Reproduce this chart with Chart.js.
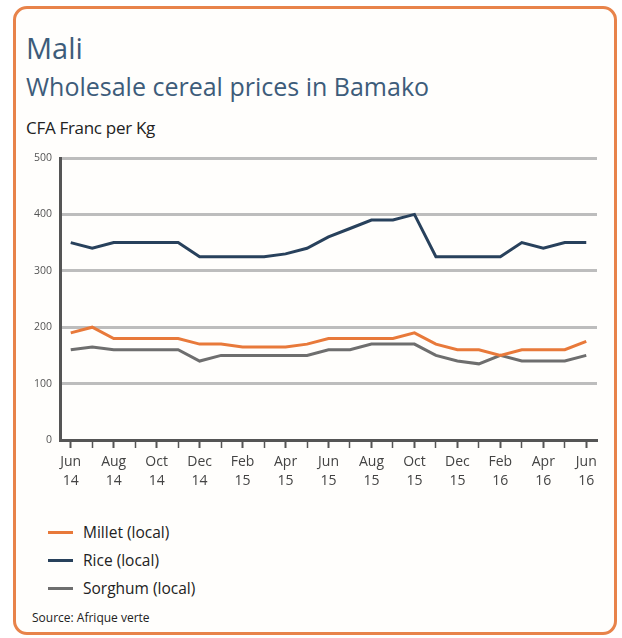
<!DOCTYPE html>
<html>
<head>
<meta charset="utf-8">
<script src="https://cdn.jsdelivr.net/npm/chart.js@4/dist/chart.umd.min.js"></script>
<style>
  html, body { margin: 0; padding: 0; background: #fff; }
  body { width: 622px; height: 638px; position: relative; overflow: hidden; font-family: "Open Sans", sans-serif; }
  .box { position: absolute; left: 13px; top: 6px; width: 598px; height: 623px; border: 3px solid #e8834a; border-radius: 14px; background: #fffefc; }
  .title { position: absolute; left: 26px; top: 28px; font-size: 29px; color: #3d5c7a; }
  .subtitle { position: absolute; left: 26px; top: 69px; font-size: 25px; color: #3d5c7a; }
  .unit { position: absolute; left: 26px; top: 116px; font-size: 17px; color: #222; letter-spacing: -0.3px; }
  #wrap { position: absolute; left: 0; top: 140px; width: 622px; height: 362px; }
  .legend { position: absolute; left: 48px; top: 518px; }
  .legend div { height: 28px; font-size: 15.5px; color: #222; display: flex; align-items: center; }
  .legend span { display: inline-block; width: 25px; height: 3px; margin-right: 10px; }
  .source { position: absolute; left: 32px; top: 609px; font-size: 12px; color: #222; }
</style>
</head>
<body>
<div class="box"></div>
<div class="title">Mali</div>
<div class="subtitle">Wholesale cereal prices in Bamako</div>
<div class="unit">CFA Franc per Kg</div>
<div id="wrap"><canvas id="chart" width="622" height="362"></canvas></div>
<div class="legend" id="legend"></div>
<div class="source">Source: Afrique verte</div>
<script>
const months = ["Jun 14","Jul 14","Aug 14","Sep 14","Oct 14","Nov 14","Dec 14","Jan 15","Feb 15","Mar 15","Apr 15","May 15",
  "Jun 15","Jul 15","Aug 15","Sep 15","Oct 15","Nov 15","Dec 15","Jan 16","Feb 16","Mar 16","Apr 16","May 16","Jun 16"];
const millet  = [190,200,180,180,180,180,170,170,165,165,165,170,180,180,180,180,190,170,160,160,150,160,160,160,175];
const rice    = [350,340,350,350,350,350,325,325,325,325,330,340,360,375,390,390,400,325,325,325,325,350,340,350,350];
const sorghum = [160,165,160,160,160,160,140,150,150,150,150,150,160,160,170,170,170,150,140,135,150,140,140,140,150];
const yTicks = [0,100,200,300,400,500];

const series = [
  { label: "Millet (local)", data: millet, color: "#e8793a" },
  { label: "Rice (local)", data: rice, color: "#28415c" },
  { label: "Sorghum (local)", data: sorghum, color: "#6e6e6e" }
];

// legend in html, stacked like the original
const legend = document.getElementById("legend");
series.forEach(s => {
  const row = document.createElement("div");
  row.innerHTML = `<span style="background:${s.color}"></span>${s.label}`;
  legend.appendChild(row);
});

new Chart(document.getElementById("chart"), {
  type: "line",
  data: {
    labels: months,
    datasets: series.map(s => ({
      label: s.label,
      data: s.data,
      borderColor: s.color,
      borderWidth: 3,
      pointRadius: 0,
      tension: 0,
      fill: false
    }))
  },
  options: {
    responsive: false,
    animation: false,
    devicePixelRatio: 1,
    layout: { padding: { left: 0, right: 25, top: 18, bottom: 0 } },
    plugins: { legend: { display: false }, tooltip: { enabled: false } },
    scales: {
      x: {
        offset: true,
        grid: {
          offset: false,
          drawOnChartArea: false,
          drawTicks: true,
          tickLength: 8,
          tickColor: "#555",
          tickWidth: ctx => (ctx.index % 2 === 0 ? 2 : 1.5)
        },
        border: { color: "#555", width: 3 },
        ticks: {
          autoSkip: false,
          maxRotation: 0,
          padding: 4,
          color: "#444",
          font: { family: "Open Sans", size: 14, lineHeight: 1.4 },
          callback: function (v, i) {
            return i % 2 === 0 ? months[i].split(" ") : "";
          }
        },
        afterFit: s => { s.height = 62; }
      },
      y: {
        min: 0,
        max: 500,
        afterBuildTicks: s => { s.ticks = yTicks.map(v => ({ value: v })); },
        grid: { color: "#bdbdbd", lineWidth: 3, drawTicks: false },
        border: { color: "#555", width: 3 },
        ticks: { padding: 8, color: "#555", font: { family: "Open Sans", size: 10.5 } },
        afterFit: s => { s.width = 60; }
      }
    }
  }
});
</script>
</body>
</html>
